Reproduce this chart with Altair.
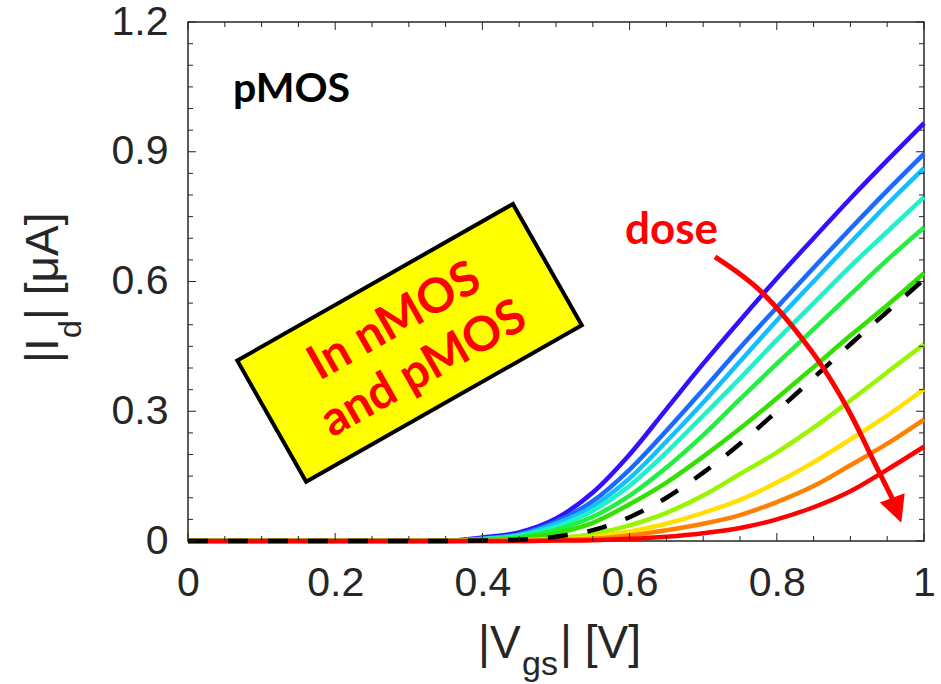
import altair as alt
import pandas as pd

# ---------------- data ----------------
vgs = [0.00, 0.05, 0.10, 0.15, 0.20, 0.25, 0.30, 0.35, 0.40, 0.45, 0.50,
       0.55, 0.60, 0.65, 0.70, 0.75, 0.80, 0.85, 0.90, 0.95, 1.00]

c1 = [0, 0, 0, 0, 0, 0, 0, 0, 0.008, 0.020, 0.052, 0.112, 0.200, 0.305, 0.410, 0.510, 0.607, 0.700, 0.792, 0.880, 0.966]
c2 = [0, 0, 0, 0, 0, 0, 0, 0, 0.006, 0.016, 0.045, 0.092, 0.165, 0.255, 0.350, 0.447, 0.540, 0.632, 0.722, 0.810, 0.895]
c3 = [0, 0, 0, 0, 0, 0, 0, 0, 0.005, 0.014, 0.040, 0.080, 0.145, 0.230, 0.320, 0.415, 0.510, 0.600, 0.690, 0.778, 0.862]
c4 = [0, 0, 0, 0, 0, 0, 0, 0, 0.004, 0.012, 0.033, 0.070, 0.128, 0.205, 0.290, 0.376, 0.465, 0.550, 0.635, 0.715, 0.795]
c5 = [0, 0, 0, 0, 0, 0, 0, 0, 0.003, 0.009, 0.026, 0.056, 0.105, 0.170, 0.245, 0.328, 0.410, 0.490, 0.570, 0.650, 0.725]
c6 = [0, 0, 0, 0, 0, 0, 0, 0, 0.002, 0.006, 0.018, 0.042, 0.085, 0.135, 0.195, 0.260, 0.330, 0.402, 0.475, 0.545, 0.619]
c7 = [0, 0, 0, 0, 0, 0, 0, 0, 0.000, 0.002, 0.006, 0.016, 0.036, 0.065, 0.105, 0.155, 0.205, 0.262, 0.325, 0.390, 0.455]
c8 = [0, 0, 0, 0, 0, 0, 0, 0, 0.000, 0.001, 0.003, 0.009, 0.022, 0.040, 0.065, 0.095, 0.135, 0.182, 0.235, 0.290, 0.351]
c9 = [0, 0, 0, 0, 0, 0, 0, 0, 0.000, 0.000, 0.002, 0.005, 0.013, 0.025, 0.040, 0.060, 0.090, 0.127, 0.175, 0.225, 0.281]
c10 = [0, 0, 0, 0, 0, 0, 0, 0, 0.000, 0.000, 0.001, 0.002, 0.005, 0.010, 0.018, 0.030, 0.050, 0.078, 0.115, 0.165, 0.218]
ref_dashed = [0, 0, 0, 0, 0, 0, 0, 0, 0.001, 0.003, 0.010, 0.025, 0.055, 0.100, 0.158, 0.225, 0.300, 0.377, 0.455, 0.530, 0.605]

series_names = ["s01", "s02", "s03", "s04", "s05", "s06", "s07", "s08", "s09", "s10"]
series_vals = [c1, c2, c3, c4, c5, c6, c7, c8, c9, c10]
series_colors = ["#3010ff", "#1a6aff", "#14bfff", "#1ef2c8", "#22ee44",
                 "#33e000", "#99f500", "#ffe000", "#ff8000", "#ff0000"]

x_major = [0, 0.2, 0.4, 0.6, 0.8, 1.0]
x_minor = [0.05, 0.1, 0.15, 0.25, 0.3, 0.35, 0.45, 0.5, 0.55, 0.65, 0.7, 0.75, 0.85, 0.9, 0.95]
y_major = [0, 0.3, 0.6, 0.9, 1.2]
y_minor = [0.05, 0.1, 0.15, 0.2, 0.25, 0.35, 0.4, 0.45, 0.5, 0.55, 0.65, 0.7, 0.75,
           0.8, 0.85, 0.95, 1.0, 1.05, 1.1, 1.15]

# annotation (data coordinates)
arrow_x = [0.716, 0.781, 0.849, 0.895, 0.931, 0.957]
arrow_y = [0.657, 0.573, 0.435, 0.310, 0.187, 0.098]
head_x, head_y = [0.963], [0.071]
box_x, box_y = [0.301], [0.458]
box_lines = ["In nMOS", "and pMOS"]
box_lx = [0.2904, 0.330]
box_ly = [0.478, 0.368]

W, H = 736, 519
GRAY = "#262626"

rows = []
for name, vals in zip(series_names, series_vals):
    for xv, yv in zip(vgs, vals):
        rows.append({"vgs": xv, "id": yv, "series": name})
curves_df = pd.DataFrame(rows)
dash_df = pd.DataFrame({"vgs": vgs, "id": ref_dashed})

xs = alt.Scale(domain=[0, 1], nice=False, zero=False)
ys = alt.Scale(domain=[0, 1.2], nice=False, zero=False)

X = lambda f: alt.X(f, scale=xs, title=None)
Y = lambda f: alt.Y(f, scale=ys, title=None)

curves = alt.Chart(curves_df).mark_line(strokeWidth=4.5, interpolate="monotone").encode(
    x=alt.X("vgs:Q", scale=xs, title=None,
            axis=alt.Axis(values=x_major, format="~g", ticks=False, tickSize=0,
                          domain=False, grid=False, labelFontSize=41,
                          labelFont="Liberation Sans", labelColor=GRAY,
                          labelPadding=22, labelFlush=False, labelOverlap=False)),
    y=alt.Y("id:Q", scale=ys, title=None,
            axis=alt.Axis(values=y_major, format="~g", ticks=False, tickSize=0,
                          domain=False, grid=False, labelFontSize=41,
                          labelFont="Liberation Sans", labelColor=GRAY,
                          labelPadding=20, labelFlush=False, labelOverlap=False)),
    color=alt.Color("series:N", scale=alt.Scale(domain=series_names, range=series_colors), legend=None),
    detail="series:N",
)

dashed = alt.Chart(dash_df).mark_line(strokeWidth=4.5, color="black", strokeDash=[20, 20],
                                      interpolate="monotone").encode(
    x=X("vgs:Q"), y=Y("id:Q"))

# ticks (inward, all four sides)
def vticks(vals, L):
    d = pd.DataFrame({"v": vals})
    b = alt.Chart(d).mark_rule(color=GRAY, strokeWidth=1).encode(
        x=X("v:Q"), y=alt.value(H), y2=alt.value(H - L))
    t = alt.Chart(d).mark_rule(color=GRAY, strokeWidth=1).encode(
        x=X("v:Q"), y=alt.value(0), y2=alt.value(L))
    return [b, t]

def hticks(vals, L):
    d = pd.DataFrame({"v": vals})
    l = alt.Chart(d).mark_rule(color=GRAY, strokeWidth=1).encode(
        y=Y("v:Q"), x=alt.value(0), x2=alt.value(L))
    r = alt.Chart(d).mark_rule(color=GRAY, strokeWidth=1).encode(
        y=Y("v:Q"), x=alt.value(W), x2=alt.value(W - L))
    return [l, r]

ticks = vticks(x_major, 8) + vticks(x_minor, 5) + hticks(y_major, 8) + hticks(y_minor, 5)

# yellow rotated box
box = alt.Chart(pd.DataFrame({"x": box_x, "y": box_y})).mark_point(
    shape="M-1,-0.44L1,-0.44L1,0.44L-1,0.44Z", size=317 * 317, angle=330.4,
    filled=True, fill="#ffff00", stroke="black", strokeWidth=4, opacity=1, fillOpacity=1
).encode(x=X("x:Q"), y=Y("y:Q"))

box_text = alt.Chart(pd.DataFrame({"x": box_lx, "y": box_ly, "t": box_lines})).mark_text(
    font="Lato", fontWeight="bold", fontSize=48, color="#ff0000", angle=330.5,
    align="center", baseline="alphabetic"
).encode(x=X("x:Q"), y=Y("y:Q"), text="t:N")

# arrow
arrow = alt.Chart(pd.DataFrame({"x": arrow_x, "y": arrow_y, "o": list(range(len(arrow_x)))})).mark_line(
    color="#ff0000", strokeWidth=5, interpolate="cardinal"
).encode(x=X("x:Q"), y=Y("y:Q"), order="o:Q")

head = alt.Chart(pd.DataFrame({"x": head_x, "y": head_y})).mark_point(
    shape="M-1,-1L1,-1L0,1Z", size=700, angle=340, filled=True, fill="#ff0000",
    opacity=1, strokeWidth=0
).encode(x=X("x:Q"), y=Y("y:Q"))

pmos = alt.Chart(pd.DataFrame({"x": [0.0612], "y": [1.015], "t": ["pMOS"]})).mark_text(
    font="Lato", fontWeight="bold", fontSize=41, color="black", align="left", baseline="alphabetic"
).encode(x=X("x:Q"), y=Y("y:Q"), text="t:N")

dose = alt.Chart(pd.DataFrame({"x": [0.657], "y": [0.687], "t": ["dose"]})).mark_text(
    font="Lato", fontWeight="bold", fontSize=44, color="#ff0000", align="center", baseline="alphabetic"
).encode(x=X("x:Q"), y=Y("y:Q"), text="t:N")

# axis titles with subscripts (pixel positions relative to plot area)
def tpiece(text, px, py, size, angle=0):
    kw = dict(font="Liberation Sans", fontSize=size, color=GRAY, align="left", baseline="alphabetic")
    if angle:
        kw["angle"] = angle
    return alt.Chart(pd.DataFrame({"t": [text]})).mark_text(**kw).encode(
        x=alt.value(px), y=alt.value(py), text="t:N")

titles = [
    tpiece("|V", 290, 636, 46),
    tpiece("gs", 334, 653, 34),
    tpiece("| [V]", 372, 636, 46),
    tpiece("|I", -130, 341, 46, 270),
    tpiece("d", -107, 316, 32, 270),
    tpiece("| [\u03bcA]", -130, 298, 46, 270),
]

chart = alt.layer(box, box_text, curves, dashed, arrow, head, pmos, dose, *ticks, *titles).properties(
    width=W, height=H,
    padding={"left": 188, "top": 22, "right": 17, "bottom": 143},
    autosize=alt.AutoSizeParams(type="none"),
    background="white",
).configure_view(stroke=GRAY, strokeWidth=1.5)

chart.save("out.html", embed_options={"renderer": "svg", "actions": False})
